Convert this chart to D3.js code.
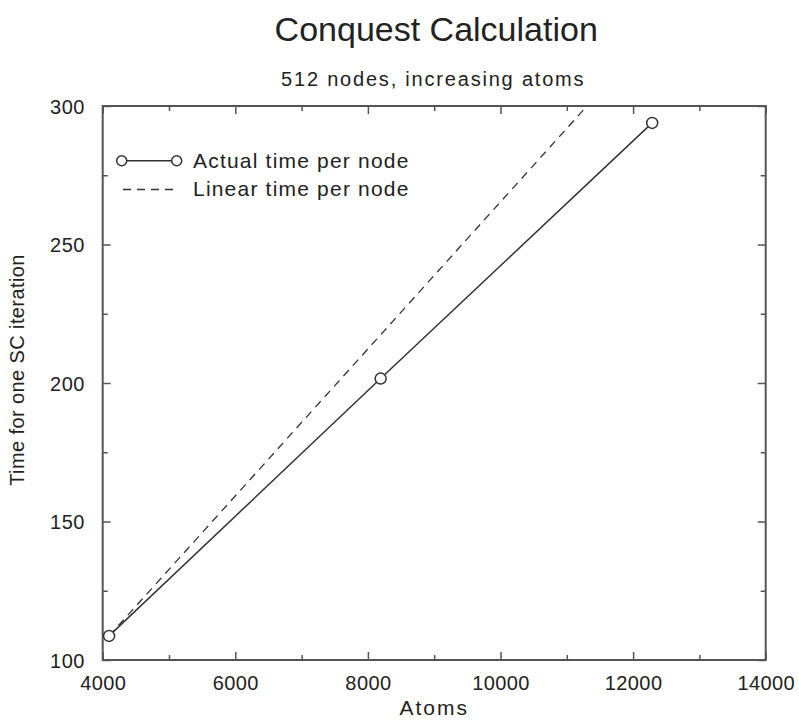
<!DOCTYPE html>
<html>
<head>
<meta charset="utf-8">
<script src="https://cdn.jsdelivr.net/npm/d3@7"></script>
<style>
  body { margin: 0; background: #fff; }
  text { font-family: "Liberation Sans", Arial, sans-serif; fill: #222; }
</style>
</head>
<body>
<div id="container"></div>
<script>
/* DATA */
const atoms = [4096, 8192, 12288];
const actualTime = [108.7, 201.6, 293.9];
const linearTime = [108.7, 217.4, 326.1];
const xMajor = [4000, 6000, 8000, 10000, 12000, 14000];
const xMinor = [5000, 7000, 9000, 11000, 13000];
const yMajor = [100, 150, 200, 250, 300];
const yMinor = [125, 175, 225, 275];
const seriesNames = ["Actual time per node", "Linear time per node"];

/* CONSTANTS */
const width = 799, height = 720;
const margin = { top: 106, bottom: 60, left: 102.7, right: 33.3 };
const ink = "#333";

const svg = d3.select("#container").append("svg")
  .attr("width", width).attr("height", height);

/* SCALES */
const xScale = d3.scaleLinear().domain([4000, 14000])
  .range([margin.left, width - margin.right]);
const yScale = d3.scaleLinear().domain([100, 300])
  .range([height - margin.bottom, margin.top]);

const x0 = xScale.range()[0], x1 = xScale.range()[1];
const y0 = yScale.range()[0], y1 = yScale.range()[1];

// clip for the lines
svg.append("defs").append("clipPath").attr("id", "plot")
  .append("rect").attr("x", x0).attr("y", y1)
  .attr("width", x1 - x0).attr("height", y0 - y1);

/* AXES - inward ticks on all four sides */
function tickAxis(axis, values, size, tr) {
  const g = svg.append("g").attr("transform", tr)
    .call(axis.tickValues(values).tickSize(size).tickFormat(""));
  g.select(".domain").remove();
  g.selectAll("line").attr("stroke", "#555").attr("stroke-width", 1.5);
  return g;
}
tickAxis(d3.axisBottom(xScale), xMajor, -8, `translate(0,${y0})`);
tickAxis(d3.axisBottom(xScale), xMinor, -5, `translate(0,${y0})`);
tickAxis(d3.axisTop(xScale), xMajor, -8, `translate(0,${y1})`);
tickAxis(d3.axisTop(xScale), xMinor, -5, `translate(0,${y1})`);
tickAxis(d3.axisLeft(yScale), yMajor, -8, `translate(${x0},0)`);
tickAxis(d3.axisLeft(yScale), yMinor, -5, `translate(${x0},0)`);
tickAxis(d3.axisRight(yScale), yMajor, -8, `translate(${x1},0)`);
tickAxis(d3.axisRight(yScale), yMinor, -5, `translate(${x1},0)`);

// tick labels
const xLab = svg.append("g").attr("transform", `translate(0,${y0})`)
  .call(d3.axisBottom(xScale).tickValues(xMajor).tickSize(0).tickFormat(d3.format("d")));
xLab.select(".domain").remove();
xLab.selectAll("text").attr("y", 30).attr("dy", 0)
  .style("font-size", "20px").style("font-family", "Liberation Sans, Arial, sans-serif")
  .attr("fill", "#222").attr("letter-spacing", 0.4);

const yLab = svg.append("g").attr("transform", `translate(${x0},0)`)
  .call(d3.axisLeft(yScale).tickValues(yMajor).tickSize(0).tickFormat(d3.format("d")));
yLab.select(".domain").remove();
yLab.selectAll("text").attr("x", -18).attr("dy", "0.36em")
  .style("font-size", "20px").style("font-family", "Liberation Sans, Arial, sans-serif")
  .attr("fill", "#222").attr("letter-spacing", 0.4);

// frame
svg.append("rect").attr("x", x0).attr("y", y1)
  .attr("width", x1 - x0).attr("height", y0 - y1)
  .attr("fill", "none").attr("stroke", "#555").attr("stroke-width", 2);

/* LINES */
const actual = atoms.map((a, i) => ({ x: a, y: actualTime[i] }));
const linear = atoms.map((a, i) => ({ x: a, y: linearTime[i] }));
const line = d3.line().x(d => xScale(d.x)).y(d => yScale(d.y));

svg.append("path").datum(linear)
  .attr("clip-path", "url(#plot)")
  .attr("d", line).attr("fill", "none")
  .attr("stroke", ink).attr("stroke-width", 1.3).attr("stroke-dasharray", "8,6");

svg.append("path").datum(actual)
  .attr("d", line).attr("fill", "none")
  .attr("stroke", ink).attr("stroke-width", 1.5);

svg.selectAll("circle.pt").data(actual).join("circle")
  .attr("class", "pt")
  .attr("cx", d => xScale(d.x)).attr("cy", d => yScale(d.y))
  .attr("r", 5.5).attr("fill", "#fff")
  .attr("stroke", ink).attr("stroke-width", 1.5);

/* LEGEND */
const leg = svg.append("g");
leg.append("line").attr("x1", 121.7).attr("x2", 176.7).attr("y1", 160.7).attr("y2", 160.7)
  .attr("stroke", ink).attr("stroke-width", 1.5);
leg.selectAll("circle").data([121.7, 176.7]).join("circle")
  .attr("cx", d => d).attr("cy", 160.7).attr("r", 5)
  .attr("fill", "#fff").attr("stroke", ink).attr("stroke-width", 1.5);
leg.append("line").attr("x1", 123).attr("x2", 178).attr("y1", 189.5).attr("y2", 189.5)
  .attr("stroke", ink).attr("stroke-width", 1.3).attr("stroke-dasharray", "8,6");
leg.selectAll("text").data(seriesNames).join("text")
  .attr("x", 193).attr("y", (d, i) => 168 + i * 28)
  .attr("font-size", 21).attr("letter-spacing", 1.2)
  .text(d => d);

/* TITLES */
const cx = (x0 + x1) / 2;
svg.append("text").attr("x", cx + 2).attr("y", 41)
  .attr("text-anchor", "middle").attr("font-size", 34).attr("fill", "#111")
  .text("Conquest Calculation");
svg.append("text").attr("x", cx - 1).attr("y", 86)
  .attr("text-anchor", "middle").attr("font-size", 20).attr("letter-spacing", 1.8)
  .text("512 nodes, increasing atoms");
svg.append("text").attr("x", cx).attr("y", 715)
  .attr("text-anchor", "middle").attr("font-size", 21).attr("letter-spacing", 2)
  .text("Atoms");
svg.append("text")
  .attr("transform", `translate(24,370) rotate(-90)`)
  .attr("text-anchor", "middle").attr("font-size", 20).attr("letter-spacing", 0.4)
  .text("Time for one SC iteration");
</script>
</body>
</html>
